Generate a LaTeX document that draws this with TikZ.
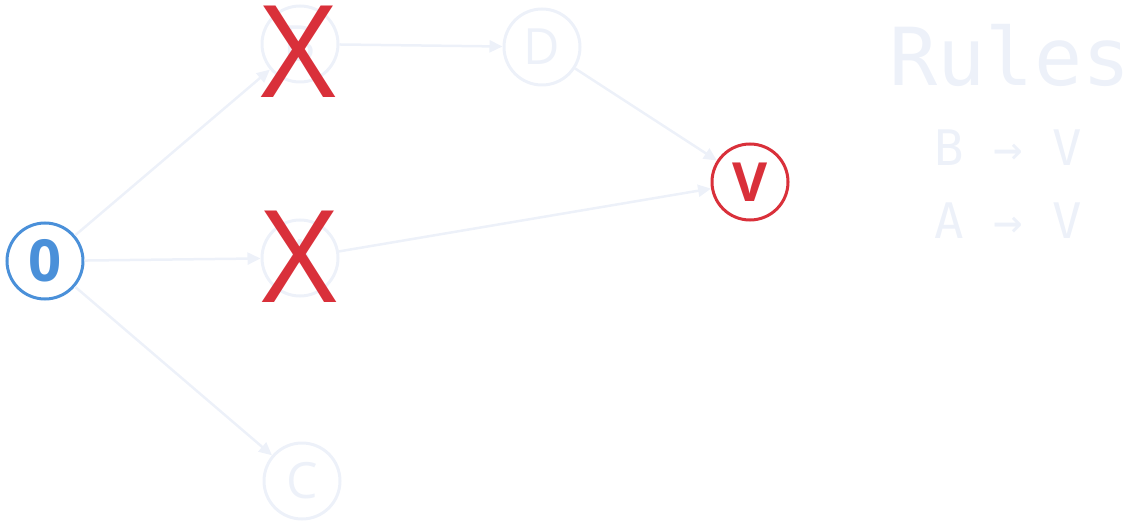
\documentclass[tikz,border=0pt]{standalone}
\usepackage{fontspec}
\usepackage{pdfrender}
\setmainfont{Open Sans}
\newfontfamily\xfont{Liberation Sans}
\newfontfamily\monofont{DejaVu Sans Mono}
\usetikzlibrary{arrows.meta}
\definecolor{faint}{RGB}{237,241,249}
\definecolor{myblue}{RGB}{74,144,217}
\definecolor{myred}{RGB}{217,48,58}
\newcommand{\hollow}[1]{\textpdfrender{TextRenderingMode=Stroke,LineWidth=2.2pt,StrokeColor=faint}{#1}}
\begin{document}
\begin{tikzpicture}[x=1pt,y=-1pt,
  vertex/.style={circle,draw=faint,line width=3pt,minimum size=76pt,inner sep=0pt,text=faint,font=\fontsize{50}{50}\selectfont},
  edge/.style={draw=faint,line width=2.5pt,-{Triangle[length=13pt,width=12pt]}},
  cross/.style={text=myred,inner sep=0pt,xscale=0.9,font=\xfont\fontsize{133}{133}\selectfont},
  ruletext/.style={text=faint,inner sep=0pt,font=\monofont\fontsize{49}{49}\selectfont}]
\useasboundingbox (0,0) rectangle (1148,529);
\node[vertex,draw=myblue,text=myblue,font=\fontsize{58}{58}\selectfont\bfseries] (o) at (45,261) {0};
\node[vertex] (b) at (300,44) {\hollow{B}};
\node[vertex] (a) at (300,258) {\hollow{A}};
\node[vertex] (c) at (302,481) {\hollow{C}};
\node[vertex] (d) at (542,47) {\hollow{D}};
\node[vertex,draw=myred,text=myred,font=\fontsize{54}{54}\selectfont\bfseries] (v) at (750,182) {V};
\draw[edge] (o) -- (b);
\draw[edge] (o) -- (a);
\draw[edge] (o) -- (c);
\draw[edge] (b) -- (d);
\draw[edge] (d) -- (v);
\draw[edge] (a) -- (v);
\node[cross] (xb) at (298,52) {X};
\node[cross] (xa) at (299,257) {X};
\node[text=faint,inner sep=0pt,font=\monofont\fontsize{80}{80}\selectfont] (rules) at (1010,55) {Rules};
\node[ruletext] (r1) at (1008,148) {B → V};
\node[ruletext] (r2) at (1008,221) {A → V};
\end{tikzpicture}
\end{document}
